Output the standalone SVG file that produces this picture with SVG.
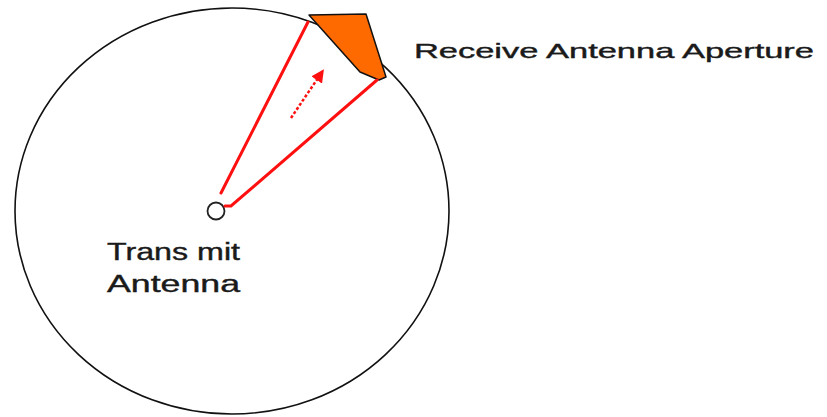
<svg xmlns="http://www.w3.org/2000/svg" width="827" height="417" viewBox="0 0 827 417">
<style>
.lbl{font-family:"Liberation Sans",Arial,sans-serif;fill:#1a1a1a;stroke:#1a1a1a;stroke-width:0.4;}
.ray{stroke:#ff1010;stroke-width:3;fill:none;stroke-linecap:round;}
</style>
<defs>
<marker id="ah" markerWidth="13" markerHeight="13" refX="6" refY="6.5" orient="auto" markerUnits="userSpaceOnUse" viewBox="0 0 13 13">
<path d="M0,0 L13,6.5 L0,13 z" fill="#ff1010"/>
</marker>
</defs>
<rect width="827" height="417" fill="#fff"/>
<g id="sphere">
<ellipse cx="232" cy="211" rx="217" ry="203" fill="none" stroke="#111" stroke-width="1.6"/>
</g>
<g id="aperture">
<path d="M309,15 L366,14 L386,77 L379,80 L360,72 Z" fill="#ff6a00" stroke="#111" stroke-width="1.5" stroke-linejoin="round"/>
</g>
<g id="transmitter">
<circle cx="216" cy="211" r="8.5" fill="#fff" stroke="#222" stroke-width="1.8"/>
</g>
<g id="connectors">
<line class="ray" x1="221" y1="193" x2="308" y2="22"/>
<polyline class="ray" points="225,206 231,206 377,80"/>
<line x1="291" y1="118" x2="320" y2="75" stroke="#ff1010" stroke-width="2.5" stroke-dasharray="3,2" marker-end="url(#ah)"/>
</g>
<g id="labels">
<text class="lbl" x="414" y="58" font-size="21" textLength="400" lengthAdjust="spacingAndGlyphs">Receive Antenna Aperture</text>
<text class="lbl" x="107" y="260" font-size="23" textLength="133" lengthAdjust="spacingAndGlyphs">Trans mit</text>
<text class="lbl" x="107" y="292" font-size="23" textLength="133" lengthAdjust="spacingAndGlyphs">Antenna</text>
</g>
</svg>
